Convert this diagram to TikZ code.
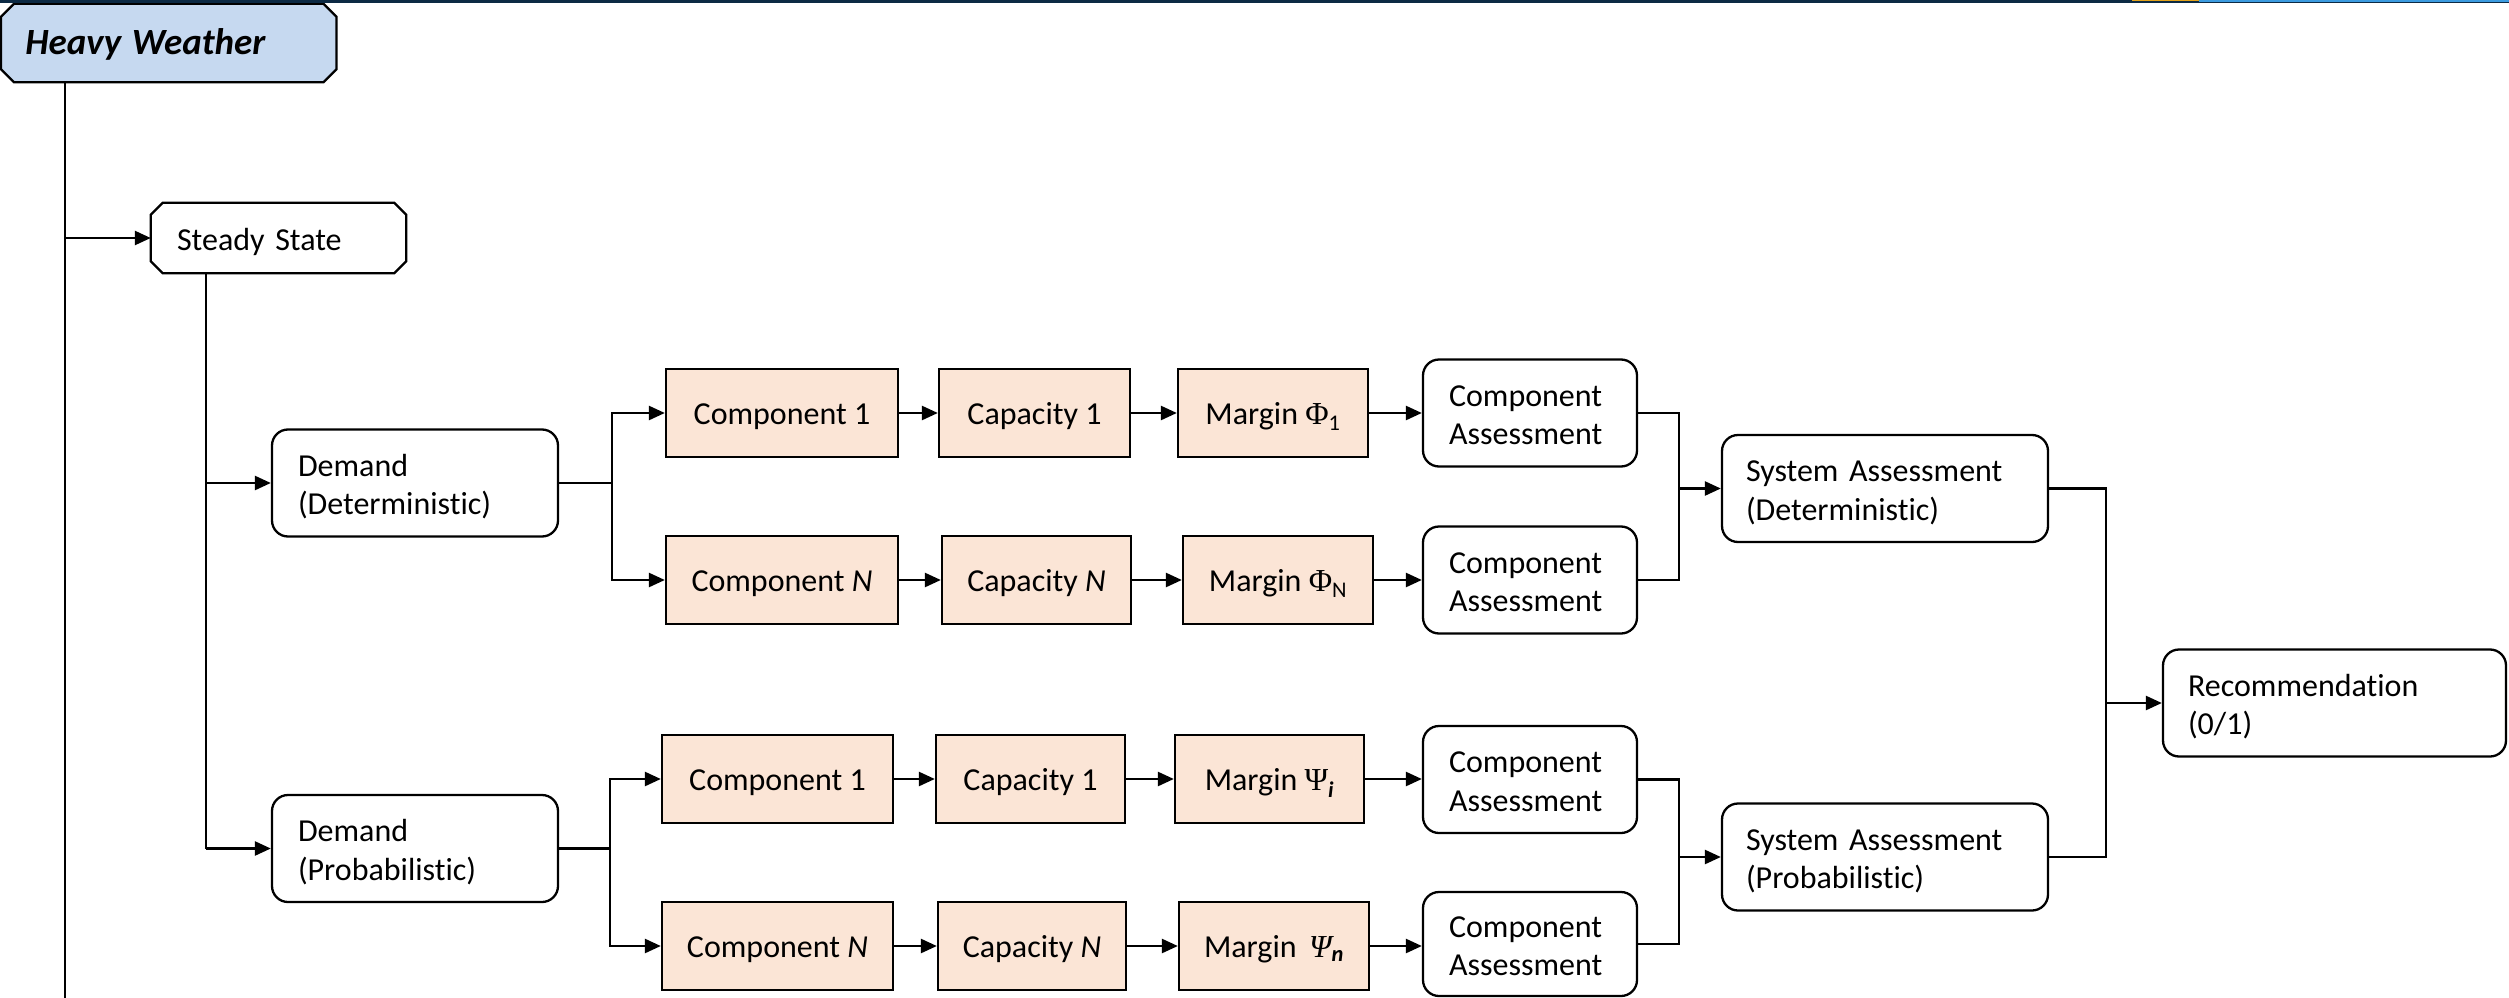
\documentclass[tikz,border=0pt]{standalone}
\usepackage{fontspec}
\setmainfont{Carlito}[Ligatures=NoCommon]
\newfontfamily\grk{Liberation Serif}
\usetikzlibrary{arrows.meta,backgrounds,calc}

\definecolor{hwblue}{HTML}{C6D9F0}
\definecolor{peach}{HTML}{FBE5D6}
\definecolor{barnavy}{HTML}{0C2A44}
\definecolor{bargold}{HTML}{E3A21A}
\definecolor{barblue}{HTML}{3B9BE0}

% octagonal outline behind a named node
\newcommand\chamferoutline[3]{%
  \begin{pgfonlayer}{background}
    \filldraw[line width=2.3pt,fill=#3]
      ([xshift=#2pt]#1.north west) -- ([xshift=-#2pt]#1.north east)
      -- ([yshift=-#2pt]#1.north east) -- ([yshift=#2pt]#1.south east)
      -- ([xshift=-#2pt]#1.south east) -- ([xshift=#2pt]#1.south west)
      -- ([yshift=#2pt]#1.south west) -- ([yshift=-#2pt]#1.north west) -- cycle;
  \end{pgfonlayer}}

\begin{document}
\begin{tikzpicture}[x=1pt,y=-1pt,
  font=\fontsize{32}{38.5}\selectfont,
  box/.style={draw,line width=2.3pt,inner ysep=0pt},
  peachbox/.style={box,fill=peach,minimum height=88pt,inner xsep=0pt,align=center,
    text height=28pt,text depth=5pt},
  roundbox/.style={box,fill=white,rounded corners=16pt,minimum height=107pt,
    inner xsep=26pt,align=left,text width=#1,text height=20pt,text depth=34pt},
  chamfbox/.style={inner ysep=0pt,align=left,text width=#1},
  wire/.style={line width=2.5pt},
  arr/.style={-{Triangle[length=16pt,width=14pt]}}]

\useasboundingbox (0,0) rectangle (2509,998);

% header rule
\fill[barnavy] (0,0) rectangle (2509,3.2);
\fill[bargold] (2132,0) rectangle (2199,1.4);
\fill[barblue] (2199,0) rectangle (2509,2);

% top-level nodes
\node[chamfbox=287pt,inner xsep=24pt,minimum height=78pt,minimum width=334.5pt,
  text height=31pt,text depth=7pt]
  (hw) at (168.75,43) {\fontsize{37}{40}\selectfont\bfseries\itshape Heavy Weather};
\chamferoutline{hw}{13}{hwblue}
\node[chamfbox=203pt,inner xsep=26pt,minimum height=70pt,minimum width=255pt,
  text height=28pt,text depth=4pt]
  (ss) at (278.5,238) {Steady State};
\chamferoutline{ss}{12}{white}

\node[roundbox=234pt] (dd) at (415,483) {Demand\\(Deterministic)};
\node[roundbox=234pt] (dp) at (415,848.5) {Demand\\(Probabilistic)};

% deterministic chains
\node[peachbox,minimum width=232pt] (c1a) at (782,413) {Component 1};
\node[peachbox,minimum width=191pt] (k1a) at (1034.5,413) {Capacity 1};
\node[peachbox,minimum width=190pt] (m1a) at (1273,413) {Margin {\grk Φ}\textsubscript{1}};
\node[roundbox=162pt] (a1) at (1530,413) {Component\\Assessment};

\node[peachbox,minimum width=232pt] (c2a) at (782,580) {Component \textit{N}};
\node[peachbox,minimum width=189pt] (k2a) at (1036.5,580) {Capacity \textit{N}};
\node[peachbox,minimum width=190pt] (m2a) at (1278,580) {Margin {\grk Φ}\textsubscript{N}};
\node[roundbox=162pt] (a2) at (1530,580) {Component\\Assessment};

% probabilistic chains
\node[peachbox,minimum width=231pt] (c1b) at (777.5,779) {Component 1};
\node[peachbox,minimum width=189pt] (k1b) at (1030.5,779) {Capacity 1};
\node[peachbox,minimum width=189pt] (m1b) at (1269.5,779) {Margin {\grk Ψ}\textsubscript{\bfseries\itshape i}};
\node[roundbox=162pt] (a3) at (1530,779.5) {Component\\Assessment};

\node[peachbox,minimum width=231pt] (c2b) at (777.5,946) {Component \textit{N}};
\node[peachbox,minimum width=188pt] (k2b) at (1032,946) {Capacity \textit{N}};
\node[peachbox,minimum width=190pt] (m2b) at (1274,946) {Margin\, {\grk\itshape Ψ}\textsubscript{\bfseries\itshape n}};
\node[roundbox=162pt,minimum height=104pt] (a4) at (1530,944) {Component\\Assessment};

% system level
\node[roundbox=278pt,inner xsep=24pt] (sd) at (1885,488.5) {System Assessment\\(Deterministic)};
\node[roundbox=278pt,inner xsep=24pt] (sp) at (1885,857) {System Assessment\\(Probabilistic)};
\node[roundbox=293pt,inner xsep=25pt] (rec) at (2334.5,703) {Recommendation\\(0/1)};

% trunk from the header
\coordinate (trunk) at (65,998);
\draw[wire] (hw.south -| trunk) -- (trunk);
\draw[wire,arr] (trunk |- ss.west) -- (ss.west);

% steady state to both demand modes
\coordinate (ssdrop) at (206,0);
\draw[wire] (ss.south -| ssdrop) -- (ssdrop |- dp.west);
\draw[wire,arr] (ssdrop |- dd.west) -- (dd.west);
\draw[wire,arr] (ssdrop |- dp.west) -- (dp.west);

% demand fan-out
\coordinate (bd) at (612,0);
\draw[wire] (dd.east) -- (dd.east -| bd);
\draw[wire,arr] (dd.east -| bd) |- (c1a.west);
\draw[wire,arr] (dd.east -| bd) |- (c2a.west);
\coordinate (bp) at (610,0);
\draw[wire] (dp.east) -- (dp.east -| bp);
\draw[wire,arr] (dp.east -| bp) |- (c1b.west);
\draw[wire,arr] (dp.east -| bp) |- (c2b.west);

% component chains
\foreach \c/\k/\m/\a in {c1a/k1a/m1a/a1, c2a/k2a/m2a/a2, c1b/k1b/m1b/a3, c2b/k2b/m2b/a4}{
  \draw[wire,arr] (\c.east) -- (\k.west);
  \draw[wire,arr] (\k.east) -- (\m.west);
  \draw[wire,arr] (\m.east) -- (\m.east -| \a.west);
}

% component assessments merge into system assessments
\coordinate (jd) at (1679,488.5);
\draw[wire] (a1.east) -| (jd);
\draw[wire] (a2.east) -| (jd);
\draw[wire,arr] (jd) -- (sd.west);
\coordinate (jp) at (1679,857);
\draw[wire] (a3.east) -| (jp);
\draw[wire] (a4.east) -| (jp);
\draw[wire,arr] (jp) -- (sp.west);

% system assessments to recommendation
\coordinate (jr) at (2106,703);
\draw[wire] (sd.east) -| (jr);
\draw[wire] (sp.east) -| (jr);
\draw[wire,arr] (jr) -- (rec.west);

\end{tikzpicture}
\end{document}
